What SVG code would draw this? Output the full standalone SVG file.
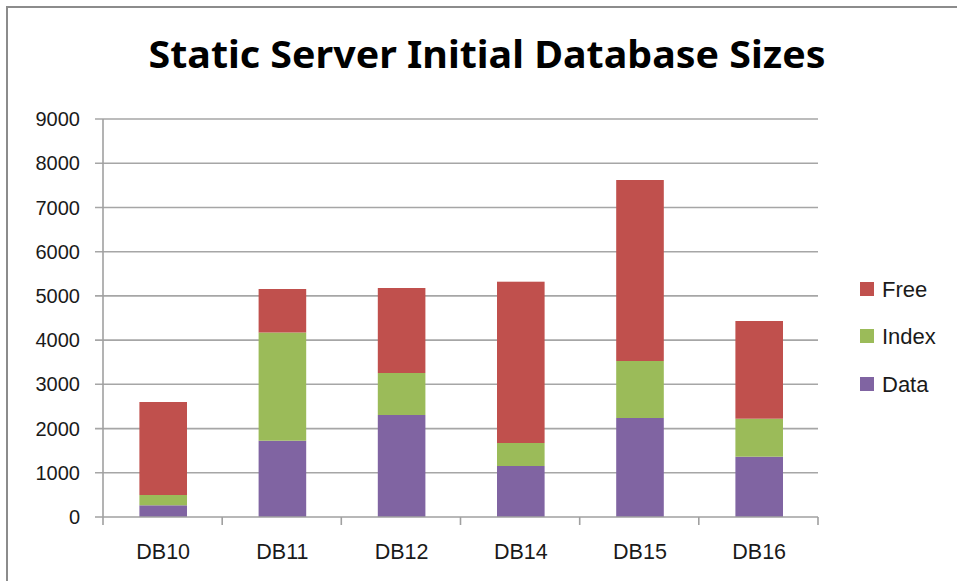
<svg xmlns="http://www.w3.org/2000/svg" width="957" height="581" viewBox="0 0 957 581">
  <style>
    .frame { fill: none; stroke: #8c8c8c; stroke-width: 2; }
    .grid { stroke: #a6a6a6; stroke-width: 1.6; fill: none; }
    .axis { stroke: #a0a0a0; stroke-width: 1.6; fill: none; }
    .title { font-family: "Noto Sans", "Liberation Sans", sans-serif; font-weight: bold; font-size: 37px; fill: #000; }
    .lbl { font-family: "Liberation Sans", Arial, sans-serif; font-size: 20px; fill: #1a1a1a; }
    .cat { font-size: 21.5px; }
    .leg { font-size: 22px; }
    .free { fill: #C0504D; }
    .index { fill: #9BBB59; }
    .data { fill: #8064A2; }
  </style>

  <rect x="0" y="0" width="957" height="581" fill="#ffffff"/>
  <!-- chart frame: only left and top edges visible -->
  <path class="frame" d="M7 581 V7 H957"/>

  <text class="title" x="487" y="68" text-anchor="middle" textLength="677" lengthAdjust="spacingAndGlyphs">Static Server Initial Database Sizes</text>

  <!-- gridlines (value = 517 - v*0.04422) -->
  <g id="gridlines">
    <path class="grid" d="M95 119.0 H818"/>
    <path class="grid" d="M95 163.2 H818"/>
    <path class="grid" d="M95 207.5 H818"/>
    <path class="grid" d="M95 251.7 H818"/>
    <path class="grid" d="M95 295.9 H818"/>
    <path class="grid" d="M95 340.1 H818"/>
    <path class="grid" d="M95 384.3 H818"/>
    <path class="grid" d="M95 428.6 H818"/>
    <path class="grid" d="M95 472.8 H818"/>
  </g>

  <!-- y-axis labels -->
  <g id="y-labels" text-anchor="end">
    <text class="lbl" x="80" y="126">9000</text>
    <text class="lbl" x="80" y="170">8000</text>
    <text class="lbl" x="80" y="214.5">7000</text>
    <text class="lbl" x="80" y="258.7">6000</text>
    <text class="lbl" x="80" y="302.9">5000</text>
    <text class="lbl" x="80" y="347.1">4000</text>
    <text class="lbl" x="80" y="391.3">3000</text>
    <text class="lbl" x="80" y="435.6">2000</text>
    <text class="lbl" x="80" y="479.8">1000</text>
    <text class="lbl" x="80" y="524">0</text>
  </g>

  <!-- stacked bars -->
  <g id="bar-DB10">
    <rect class="data" x="139.4" y="505.3" width="47.6" height="11.7"/>
    <rect class="index" x="139.4" y="495" width="47.6" height="10.3"/>
    <rect class="free" x="139.4" y="402" width="47.6" height="93"/>
  </g>
  <g id="bar-DB11">
    <rect class="data" x="258.6" y="440.7" width="47.6" height="76.3"/>
    <rect class="index" x="258.6" y="332.5" width="47.6" height="108.2"/>
    <rect class="free" x="258.6" y="289" width="47.6" height="43.5"/>
  </g>
  <g id="bar-DB12">
    <rect class="data" x="377.8" y="415" width="47.6" height="102"/>
    <rect class="index" x="377.8" y="373" width="47.6" height="42"/>
    <rect class="free" x="377.8" y="288" width="47.6" height="85"/>
  </g>
  <g id="bar-DB14">
    <rect class="data" x="497" y="466" width="47.6" height="51"/>
    <rect class="index" x="497" y="443" width="47.6" height="23"/>
    <rect class="free" x="497" y="281.7" width="47.6" height="161.3"/>
  </g>
  <g id="bar-DB15">
    <rect class="data" x="616.2" y="418" width="47.6" height="99"/>
    <rect class="index" x="616.2" y="361" width="47.6" height="57"/>
    <rect class="free" x="616.2" y="180" width="47.6" height="181"/>
  </g>
  <g id="bar-DB16">
    <rect class="data" x="735.4" y="456.7" width="47.6" height="60.3"/>
    <rect class="index" x="735.4" y="418.7" width="47.6" height="38"/>
    <rect class="free" x="735.4" y="321" width="47.6" height="97.7"/>
  </g>

  <!-- axes -->
  <g id="axes">
    <path class="axis" d="M103 119 V517"/>
    <path class="axis" d="M95 517 H818"/>
    <path class="axis" d="M103 517 V525 M222.2 517 V525 M341.3 517 V525 M460.5 517 V525 M579.7 517 V525 M698.8 517 V525 M818 517 V525"/>
  </g>

  <!-- category labels -->
  <g id="x-labels" text-anchor="middle">
    <text class="lbl cat" x="163.2" y="559">DB10</text>
    <text class="lbl cat" x="282.4" y="559">DB11</text>
    <text class="lbl cat" x="401.6" y="559">DB12</text>
    <text class="lbl cat" x="520.8" y="559">DB14</text>
    <text class="lbl cat" x="640" y="559">DB15</text>
    <text class="lbl cat" x="759.2" y="559">DB16</text>
  </g>

  <!-- legend -->
  <g id="legend">
    <rect class="free" x="860" y="282" width="14" height="14"/>
    <text class="lbl leg" x="882" y="297">Free</text>
    <rect class="index" x="860" y="329" width="14" height="14"/>
    <text class="lbl leg" x="882" y="344">Index</text>
    <rect class="data" x="860" y="377" width="14" height="14"/>
    <text class="lbl leg" x="882" y="392">Data</text>
  </g>
</svg>
